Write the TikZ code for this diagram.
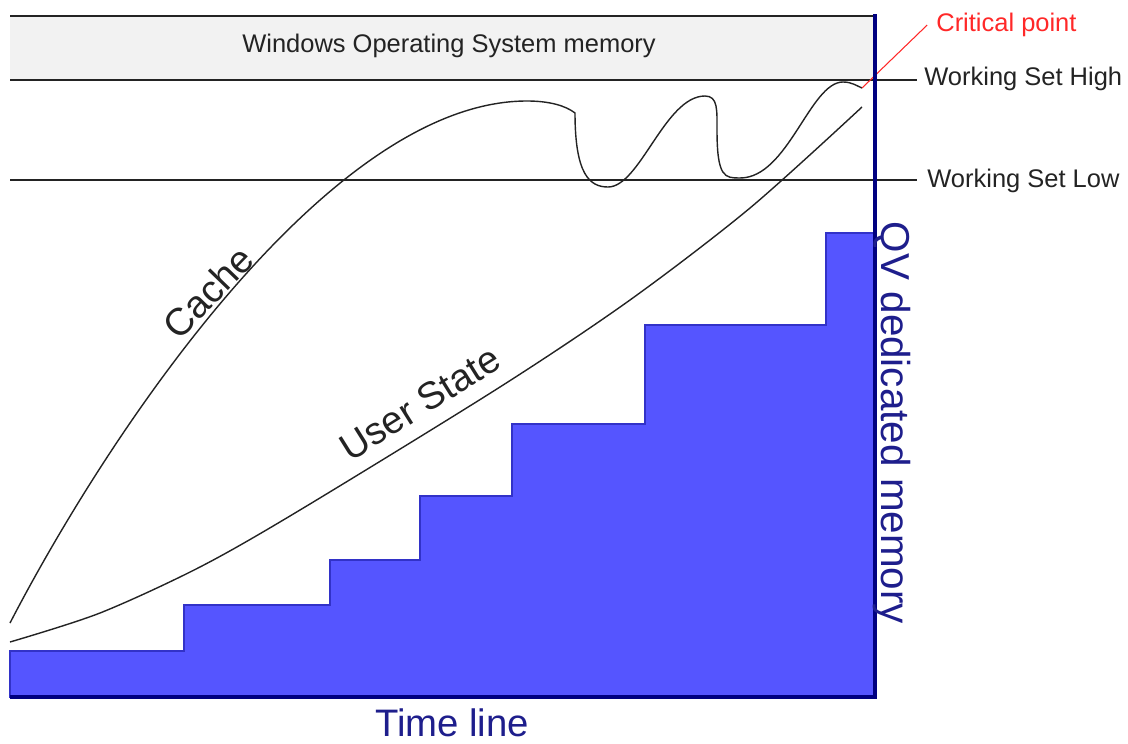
\documentclass[tikz,border=0pt]{standalone}
\usepackage{fontspec}
\setmainfont{Liberation Sans}
\usetikzlibrary{positioning}
\definecolor{qv-fill}{RGB}{85,85,255}
\definecolor{qv-edge}{RGB}{50,50,200}
\definecolor{qv-navy}{RGB}{0,0,128}
\definecolor{qv-text}{RGB}{30,30,140}
\definecolor{os-grey}{RGB}{242,242,242}
\definecolor{crit-red}{RGB}{255,40,40}
\definecolor{ink}{RGB}{35,35,35}
\tikzstyle{smalltext}=[font=\fontsize{14.5}{17}\selectfont,text=ink,inner sep=0pt]
\tikzstyle{bigtext}=[font=\fontsize{21.8}{26}\selectfont,inner sep=0pt]
\tikzstyle{setline}=[draw=ink,line width=1pt]
\tikzstyle{trace}=[draw=ink,line width=0.8pt]
\tikzstyle{qvaxis}=[draw=qv-navy,line width=2.4pt]
\tikzstyle{stairs}=[fill=qv-fill,draw=qv-edge,line width=0.6pt]

\begin{document}
\begin{tikzpicture}[x=0.02cm,y=-0.02cm]
%    \draw[step=50,gray,thin] (0,0) grid (1128,743);
    \useasboundingbox (0,0) rectangle (1128,743);

    \fill[os-grey] (10,16) rectangle (875,80);
    \node[smalltext] at (449,46) (osmem) {Windows Operating System memory};

    \filldraw[stairs] (10,697) -- (10,651) -- (184,651) -- (184,605) -- (330,605) -- (330,560)
        -- (420,560) -- (420,496) -- (512,496) -- (512,424) -- (645,424) -- (645,325)
        -- (826,325) -- (826,233) -- (875,233) -- (875,697) -- cycle;

    \node[smalltext,anchor=west] at (924,79) (wshigh) {Working Set High};
    \node[smalltext,anchor=west] at (927,181) (wslow) {Working Set Low};
    \coordinate (hstart) at (10,80);
    \coordinate (lstart) at (10,180);
    \draw[setline] (10,16) -- (875,16);
    \draw[setline] (hstart) -- ([xshift=-4pt]hstart -| wshigh.west);
    \draw[setline] (lstart) -- ([xshift=-5.5pt]lstart -| wslow.west);

    \draw[trace] (10,623) .. controls (110,430) and (330,101) .. (527,101)
        .. controls (550,101) and (566,106) .. (575,113)
        .. controls (575,175) and (590,187) .. (608,187)
        .. controls (640,187) and (665,96) .. (705,96)
        .. controls (718,96) and (717,110) .. (717,130)
        .. controls (717,178) and (725,178) .. (740,178)
        .. controls (788,178) and (810,82) .. (843,82)
        .. controls (852,82) and (857,86) .. (862,88) coordinate (crit);
    \draw[trace] plot[smooth] coordinates {(10,642) (100,613) (200,567) (300,510) (500,387)
        (630,300) (750,208) (862,107)};

    \node[bigtext,text=ink,rotate=46] at (208,292) (cache) {Cache};
    \node[bigtext,text=ink,rotate=32] at (420,403) (userstate) {User State};

    \node[smalltext,text=crit-red,anchor=west] at (936,25) (critical) {Critical point};
    \draw[crit-red,line width=0.6pt] (crit) -- ([xshift=-5pt]critical.west);

    \draw[qvaxis] (10,697) -- (875,697) -- (875,14);

    \node[bigtext,text=qv-text] at (452,723) (timeline) {Time line};
    \node[bigtext,text=qv-text,rotate=-90,font=\fontsize{23}{27}\selectfont] at (892,423) (qvmem) {QV dedicated memory};
\end{tikzpicture}
\end{document}
